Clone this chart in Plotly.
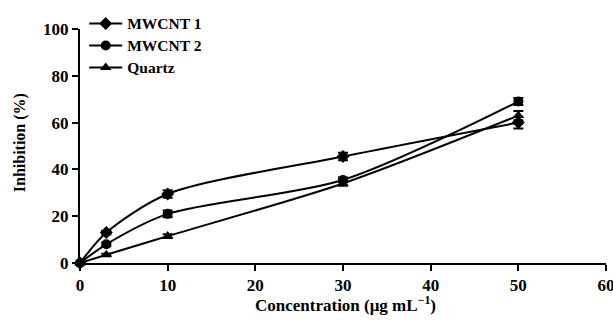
import plotly.graph_objects as go

conc = [0, 3, 10, 30, 50]
mwcnt1 = [0, 13, 29.5, 45.5, 60]
mwcnt1_err = [0, 0.8, 1.6, 1.6, 2.5]
mwcnt2 = [0, 8, 21, 35.5, 69]
mwcnt2_err = [0, 0.8, 1.4, 1.0, 1.5]
quartz = [0, 3.5, 11.5, 34, 63]
quartz_err = [0, 0.5, 0.8, 1.0, 2.0]

x_ticks = [0, 10, 20, 30, 40, 50, 60]
y_ticks = [0, 20, 40, 60, 80, 100]

names = ["MWCNT 1", "MWCNT 2", "Quartz"]
symbols = ["diamond", "circle", "triangle-up"]
series = [(mwcnt1, mwcnt1_err), (mwcnt2, mwcnt2_err), (quartz, quartz_err)]
legend_ids = ["legend", "legend2", "legend3"]
legend_y = [1.022, 0.928, 0.834]

FAM = "Liberation Serif, Times New Roman, serif"

fig = go.Figure()
for name, sym, (vals, err), lid in zip(names, symbols, series, legend_ids):
    fig.add_trace(go.Scatter(
        x=conc, y=vals, name="<b>" + name + "</b>", mode="lines+markers",
        line=dict(color="black", width=2, shape="spline", smoothing=0.8),
        marker=dict(symbol=sym, size=10, color="black"),
        error_y=dict(type="data", array=err, color="black", thickness=2, width=5),
        cliponaxis=False, legend=lid,
    ))

leg_common = dict(x=0.008, xanchor="left", yanchor="middle", bgcolor="rgba(0,0,0,0)",
                  font=dict(size=15.5, family=FAM, color="black"), itemwidth=33)
legends = {}
for lid, ly in zip(legend_ids, legend_y):
    legends[lid] = dict(leg_common, y=ly)

fig.update_layout(
    width=613, height=326,
    margin=dict(l=80, r=7, t=21, b=63),
    paper_bgcolor="white", plot_bgcolor="white",
    font=dict(family=FAM, color="black", size=17),
    showlegend=True,
    **legends,
    xaxis=dict(range=[0, 60], tickvals=x_ticks,
               ticktext=["<b>%d</b>" % v for v in x_ticks],
               showline=True, linecolor="black", linewidth=2,
               ticks="outside", ticklen=6, tickwidth=2, tickcolor="black",
               showgrid=False, zeroline=False, automargin=False,
               ticklabeloverflow="allow",
               tickfont=dict(size=17)),
    yaxis=dict(range=[0, 100], tickvals=y_ticks,
               ticktext=["<b>%d</b>" % v for v in y_ticks],
               showline=True, linecolor="black", linewidth=2,
               ticks="outside", ticklen=6, tickwidth=2, tickcolor="black",
               showgrid=False, zeroline=False, automargin=False,
               ticklabeloverflow="allow",
               tickfont=dict(size=17)),
    annotations=[
        dict(text="<b>Concentration (μg mL<sup>−1</sup>)</b>", xref="paper", yref="paper",
             x=0.504, y=-0.174, xanchor="center", yanchor="middle", showarrow=False,
             font=dict(size=17, family=FAM, color="black")),
        dict(text="<b>Inhibition (%)</b>", xref="paper", yref="paper",
             x=-0.114, y=0.512, xanchor="center", yanchor="middle", textangle=-90, showarrow=False,
             font=dict(size=16, family=FAM, color="black")),
    ],
)
fig.write_html("out.html", config={"displayModeBar": False},
               post_script="document.body.style.margin='0';")
